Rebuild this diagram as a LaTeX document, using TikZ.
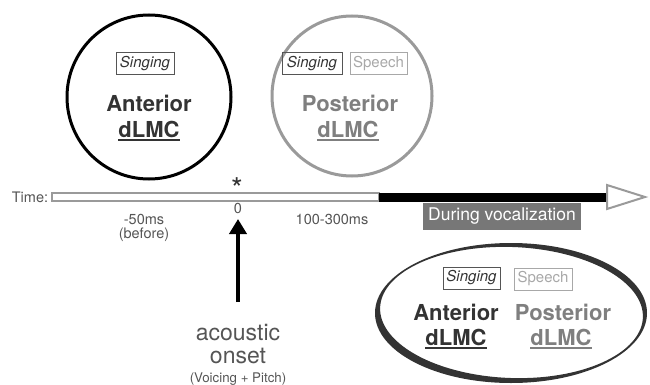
\documentclass[tikz,border=0pt]{standalone}
\usepackage{fontspec}
\setmainfont{TeX Gyre Heros}
\usetikzlibrary{shapes.geometric,arrows.meta}
\definecolor{dark}{HTML}{333333}
\definecolor{midg}{HTML}{555555}
\definecolor{postg}{HTML}{7F7F7F}
\definecolor{ringg}{HTML}{9A9A9A}
\definecolor{lightg}{HTML}{A8A8A8}
\definecolor{barg}{HTML}{9A9A9A}
\definecolor{durg}{HTML}{777777}
\newcommand\ulbox[1]{\setbox0\hbox{#1}\rlap{\rule[-4pt]{\wd0}{1.6pt}}\box0}
\begin{document}
\begin{tikzpicture}[x=1pt,y=-1pt,
  bigb/.style={inner sep=0, anchor=base, font=\fontsize{22}{24}\selectfont\bfseries},
  tagbox/.style={draw, line width=1pt, inner sep=0, minimum height=22pt, font=\fontsize{15}{16}\selectfont},
  small/.style={inner sep=0, anchor=base, text=midg, font=\fontsize{14.5}{16}\selectfont}]
\useasboundingbox (0,0) rectangle (650,385);
% top circles
\node (antcirc) [circle, draw=black, line width=3pt, minimum size=164pt, inner sep=0] at (149,97) {};
\node (postcirc) [circle, draw=ringg, line width=3pt, minimum size=160pt, inner sep=0] at (352,96) {};
\node (antsing) [tagbox, draw=midg, text=dark, minimum width=58pt] at (145,63.5) {\itshape Singing};
\node (antA) [bigb, text=dark] at (149,112) {Anterior};
\node (antB) [bigb, text=dark] at (149,137) {\ulbox{dLMC}};
\node (postsing) [tagbox, draw=midg, text=dark, minimum width=60pt] at (312,63.5) {\itshape Singing};
\node (postspeech) [tagbox, draw=lightg, text=lightg, minimum width=57pt] at (378.5,63.5) {Speech};
\node (postA) [bigb, text=postg] at (350,112) {Posterior};
\node (postB) [bigb, text=postg] at (348,137) {\ulbox{dLMC}};
% timeline
\node (time) [small, text=midg] at (30,202) {Time:};
\draw[barg, line width=2pt, fill=white] (52,193) rectangle (379,201);
\fill[black] (379,192.5) rectangle (607,201.5);
\draw[barg, line width=2pt, fill=white, line join=miter] (607,185) -- (645,197) -- (607,209) -- cycle;
\node (star) [inner sep=0, text=dark, anchor=base, font=\fontsize{30}{30}\selectfont] at (237,199) {*};
\node (zero) [small] at (238,213) {0};
\node (m50) [small] at (144,224) {-50ms};
\node (before) [small] at (144,238) {(before)};
\node (hund) [small] at (332,224) {100-300ms};
\node (during) [fill=durg, text=white, inner sep=0, minimum width=158pt, minimum height=27pt, font=\fontsize{17.5}{18}\selectfont] at (502,216.5) {During vocalization};
% acoustic onset arrow
\coordinate (abase) at (238,302);
\coordinate (atip) at (238,219);
\draw[line width=4.5pt, -{Triangle[length=15pt,width=17pt]}] (abase) -- (atip);
\node (acou) [inner sep=0, anchor=base, text=midg, font=\fontsize{23}{24}\selectfont] at (238,340) {acoustic};
\node (onset) [inner sep=0, anchor=base, text=midg, font=\fontsize{23}{24}\selectfont] at (238,363) {onset};
\node (vp) [inner sep=0, anchor=base, text=midg, font=\fontsize{13.3}{14}\selectfont] at (238,382) {(Voicing + Pitch)};
% bottom ellipse (brush-like stroke of varying width)
\coordinate (ell) at (511,313);
\fill[dark, even odd rule] (ell) ellipse [x radius=136, y radius=70]
  plot[smooth cycle, domain=0:355, samples=72, variable=\t]
  ({511.5+131.5*cos(\t)*cos(2.2) - 65.5*sin(\t)*sin(2.2)},
   {312.5+131.5*cos(\t)*sin(2.2) + 65.5*sin(\t)*cos(2.2)});
\node (esing) [tagbox, draw=midg, text=dark, minimum width=57pt] at (471.5,278) {\itshape Singing};
\node (espeech) [tagbox, draw=lightg, text=lightg, minimum width=58pt] at (543,279) {Speech};
\node (eA) [bigb, text=dark] at (456,320) {Anterior};
\node (eB) [bigb, text=dark] at (456,345) {\ulbox{dLMC}};
\node (eP) [bigb, text=postg] at (563,320) {Posterior};
\node (ePB) [bigb, text=postg] at (561,345) {\ulbox{dLMC}};
\end{tikzpicture}
\end{document}
